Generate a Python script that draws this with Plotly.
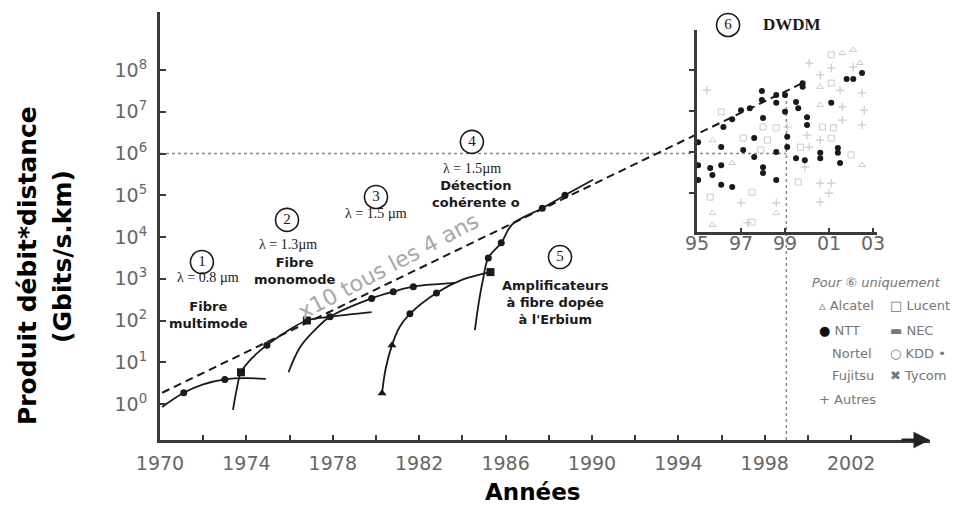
import plotly.graph_objects as go

# ---------------- data (years, log10 of bit-rate*distance) ----------------
gen1_year = [1970.1, 1971.1, 1972.0, 1973.0, 1974.0, 1974.9]
gen1_exp = [-0.07, 0.27, 0.47, 0.59, 0.62, 0.60]
gen2_year = [1973.38, 1973.55, 1973.75, 1974.3, 1974.95, 1975.9, 1976.8, 1977.87, 1979.8]
gen2_exp = [-0.14, 0.35, 0.76, 1.12, 1.41, 1.75, 2.0, 2.09, 2.2]
gen3_year = [1975.95, 1976.5, 1977.3, 1977.87, 1979.8, 1980.8, 1981.73, 1983.66]
gen3_exp = [0.76, 1.37, 1.84, 2.09, 2.53, 2.69, 2.81, 2.9]
gen4_year = [1980.28, 1980.45, 1980.74, 1981.1, 1981.57, 1982.8, 1984.0, 1985.3]
gen4_exp = [0.26, 0.85, 1.41, 1.85, 2.16, 2.66, 2.98, 3.16]
gen5_year = [1984.58, 1984.75, 1984.95, 1985.2, 1985.8, 1986.3, 1987.7, 1988.75, 1990.05]
gen5_exp = [1.77, 2.4, 2.97, 3.5, 3.86, 4.3, 4.69, 5.0, 5.37]

trend_year = [1970.1, 1999.8]
trend_exp = [0.27, 7.7]

dot_year = [1971.1, 1973.0, 1974.95, 1977.87, 1979.8, 1980.8, 1981.73, 1981.57, 1982.8, 1985.2, 1985.8, 1987.7, 1988.75]
dot_exp = [0.27, 0.59, 1.41, 2.09, 2.53, 2.69, 2.81, 2.16, 2.66, 3.5, 3.86, 4.69, 5.0]
square_year = [1973.75, 1976.8, 1985.3]
square_exp = [0.76, 2.0, 3.16]
tri_year = [1980.28, 1980.74]
tri_exp = [0.26, 1.41]

ref_level_exp = 6
ref_year = 1999

# inset (DWDM) records
ntt_year = [1995.05, 1995.05, 1995.05, 1995.6, 1995.7, 1996.1, 1996.1, 1996.1, 1996.2, 1996.6,
            1996.6, 1997.0, 1997.1, 1997.4, 1997.6, 1997.6, 1997.95, 1997.95, 1998.0, 1998.0,
            1998.0, 1998.6, 1998.6, 1998.6, 1998.6, 1999.0, 1999.0, 1999.1, 1999.1, 1999.5,
            1999.5, 1999.8, 1999.8, 1999.6, 2000.0, 2000.0, 1999.9, 2000.6, 2000.6, 2001.1,
            2001.4, 2001.4, 2001.5, 2001.8, 2002.1, 2002.5]
ntt_exp = [6.24, 5.68, 5.32, 5.61, 5.44, 6.12, 5.68, 5.2, 6.61, 6.8,
           5.15, 7.02, 6.05, 7.07, 6.34, 5.88, 7.49, 7.27, 6.83, 5.63,
           5.49, 7.39, 7.2, 6.0, 5.32, 7.39, 6.98, 6.37, 6.12, 7.22,
           5.85, 7.68, 7.59, 7.07, 6.85, 6.66, 5.8, 5.98, 5.85, 7.2,
           6.1, 5.98, 5.73, 7.78, 7.78, 7.93]
oth_tri_year = [1995.7, 1995.7, 1995.7, 1996.6, 1998.6, 2001.6, 2002.4, 2000.6, 2000.6, 2002.5, 2002.1]
oth_tri_exp = [6.29, 4.51, 4.22, 5.73, 4.51, 8.41, 8.17, 7.59, 7.15, 5.68, 8.49]
oth_sq_year = [1995.6, 1996.1, 1997.1, 1997.5, 1997.5, 1997.9, 1998.0, 1998.6, 2001.1, 2001.1,
               2000.7, 2001.1, 1999.7, 2002.0, 1999.6, 2001.2, 1998.2]
oth_sq_exp = [4.9, 6.98, 6.34, 5.02, 4.29, 6.05, 6.61, 6.59, 8.37, 7.68,
              6.61, 6.34, 6.12, 5.93, 5.27, 6.59, 6.29]
oth_plus_year = [1995.45, 1997.0, 1998.6, 2000.1, 2000.6, 2001.5, 2002.5, 2001.6, 2000.6, 2000.6,
                 2001.1, 2001.0, 2000.6, 1999.1, 2000.0, 1999.9, 2002.1, 2001.1, 2002.6, 2001.6,
                 2002.5, 2000.1, 1997.3]
oth_plus_exp = [7.51, 4.76, 4.76, 8.17, 7.88, 7.51, 7.44, 7.1, 6.29, 5.24,
                5.24, 5.0, 4.78, 6.61, 6.41, 5.63, 8.07, 8.05, 7.02, 6.78,
                6.66, 6.12, 4.27]

year_ticks = list(range(1970, 2003, 2))
year_labels = [str(y) if (y - 1970) % 4 == 0 else "" for y in year_ticks]
exp_ticks = list(range(0, 9))
exp_labels = ["10<sup>%d</sup>" % k for k in exp_ticks]
inset_ticks = [1995, 1997, 1999, 2001, 2003]
inset_labels = ["95", "97", "99", "01", "03"]

circle_year = [1971.94, 1975.88, 1980.0, 1984.44, 1988.52, 1996.3]
circle_exp = [3.40, 4.41, 4.96, 6.28, 3.52, 9.08]
circle_text = ["1", "2", "3", "4", "5", "6"]


def v(exps):
    return [10 ** e for e in exps]


INK = "#1a1a1a"
AX = "#3a3a3a"
GRAY = "#666666"
LIGHT = "#cccccc"

fig = go.Figure()

# reference dotted lines
fig.add_trace(go.Scatter(x=[1970, ref_year], y=v([ref_level_exp, ref_level_exp]), mode="lines",
                         line=dict(color="#888", width=1.5, dash="dot"), hoverinfo="skip"))
fig.add_trace(go.Scatter(x=[ref_year, ref_year], y=v([-0.86, 7.5]), mode="lines",
                         line=dict(color="#888", width=1.5, dash="dot"), hoverinfo="skip"))

# trend line
fig.add_trace(go.Scatter(x=trend_year, y=v(trend_exp), mode="lines",
                         line=dict(color=INK, width=2, dash="8px,5px")))

for xs, es in [(gen1_year, gen1_exp), (gen2_year, gen2_exp), (gen3_year, gen3_exp),
               (gen4_year, gen4_exp), (gen5_year, gen5_exp)]:
    fig.add_trace(go.Scatter(x=xs, y=v(es), mode="lines", line=dict(color=INK, width=1.8, shape="spline")))

fig.add_trace(go.Scatter(x=dot_year, y=v(dot_exp), mode="markers",
                         marker=dict(symbol="circle", size=7, color=INK)))
fig.add_trace(go.Scatter(x=square_year, y=v(square_exp), mode="markers",
                         marker=dict(symbol="square", size=8, color=INK)))
fig.add_trace(go.Scatter(x=tri_year, y=v(tri_exp), mode="markers",
                         marker=dict(symbol="triangle-up", size=8, color=INK)))

# circled numbers
fig.add_trace(go.Scatter(x=circle_year, y=v(circle_exp), mode="markers+text", text=circle_text,
                         textposition="middle center",
                         textfont=dict(family="Liberation Serif", size=15, color=INK),
                         marker=dict(symbol="circle-open", size=23, color=INK, line=dict(width=1.6, color=INK))))

# inset scatter
fig.add_trace(go.Scatter(x=oth_tri_year, y=v(oth_tri_exp), xaxis="x2", yaxis="y2", mode="markers",
                         marker=dict(symbol="triangle-up-open", size=6, color=LIGHT, line=dict(width=1))))
fig.add_trace(go.Scatter(x=oth_sq_year, y=v(oth_sq_exp), xaxis="x2", yaxis="y2", mode="markers",
                         marker=dict(symbol="square-open", size=6, color=LIGHT, line=dict(width=1))))
fig.add_trace(go.Scatter(x=oth_plus_year, y=v(oth_plus_exp), xaxis="x2", yaxis="y2", mode="markers",
                         marker=dict(symbol="cross-thin-open", size=6, color=LIGHT, line=dict(width=1.2, color=LIGHT))))
fig.add_trace(go.Scatter(x=ntt_year, y=v(ntt_exp), xaxis="x2", yaxis="y2", mode="markers",
                         marker=dict(symbol="circle", size=6, color=INK)))

tickfont = dict(family="DejaVu Sans", size=19, color=GRAY)

fig.update_layout(
    width=966, height=505,
    margin=dict(l=160, r=36, t=12, b=65),
    paper_bgcolor="white", plot_bgcolor="rgba(0,0,0,0)",
    showlegend=False,
    xaxis=dict(range=[1970, 2005.65], showline=True, linewidth=3, linecolor=AX, ticks="inside",
               ticklen=5, tickwidth=2, tickcolor=AX, tickvals=year_ticks, ticktext=year_labels,
               showgrid=False, zeroline=False, tickfont=tickfont, ticklabelstandoff=4),
    yaxis=dict(type="log", range=[-0.862, 9.39], showline=True, linewidth=3, linecolor=AX,
               ticks="inside", ticklen=6, tickwidth=2, tickcolor=AX,
               tickvals=[10 ** k for k in exp_ticks], ticktext=exp_labels,
               showgrid=False, zeroline=False, tickfont=tickfont, ticklabelstandoff=6),
    xaxis2=dict(domain=[0.6974, 0.9312], anchor="y2", range=[1995, 2003.18], showline=True,
                linewidth=3, linecolor=AX, ticks="inside", ticklen=4, tickwidth=2, tickcolor=AX,
                tickvals=inset_ticks, ticktext=inset_labels, showgrid=False, zeroline=False,
                tickfont=tickfont, ticklabelstandoff=-8),
    yaxis2=dict(domain=[0.486, 0.958], anchor="x2", type="log", range=[4.05, 8.976], showline=True,
                linewidth=3, linecolor=AX, ticks="outside", ticklen=5, tickwidth=2, tickcolor=AX,
                tickvals=[1e5, 1e6, 1e7, 1e8], showticklabels=False, showgrid=False, zeroline=False),
)

ann = []
# axis arrow
ann.append(dict(x=1.0, y=0, xref="paper", yref="paper", text="", showarrow=True, ax=-30, ay=0,
                arrowhead=2, arrowsize=1.1, arrowwidth=3, arrowcolor="#222"))
# axis titles
titlef = dict(family="DejaVu Sans", size=25, weight="bold", color="black")
ann.append(dict(x=-0.1727, y=0.4065, xref="paper", yref="paper", text="Produit débit*distance",
                textangle=-90, showarrow=False, xanchor="center", yanchor="middle", font=titlef))
ann.append(dict(x=-0.126, y=0.43, xref="paper", yref="paper", text="(Gbits/s.km)",
                textangle=-90, showarrow=False, xanchor="center", yanchor="middle", font=titlef))
ann.append(dict(x=0.4844, y=-0.121, xref="paper", yref="paper", text="Années",
                showarrow=False, xanchor="center", yanchor="middle",
                font=dict(family="DejaVu Sans", size=23, weight="bold", color="black")))

serif = dict(family="Liberation Serif", size=14, color=INK)
boldf = dict(family="DejaVu Sans", size=13, weight="bold", color=INK)
labels = [
    (1972.22, 3.02, "λ = 0.8 µm", serif),
    (1972.25, 2.14, "Fibre<br>multimode", boldf),
    (1975.93, 3.81, "λ = 1.3µm", serif),
    (1976.25, 3.19, "Fibre<br>monomode", boldf),
    (1980.0, 4.57, "λ = 1.5 µm", serif),
    (1984.44, 5.65, "λ = 1.5µm", serif),
    (1984.62, 5.03, "Détection<br>cohérente o", boldf),
    (1988.3, 2.44, "Amplificateurs<br>à fibre dopée<br>à l'Erbium", boldf),
]
for x, y, t, f in labels:
    ann.append(dict(x=x, y=y, xref="x", yref="y", text=t, showarrow=False,
                    xanchor="center", yanchor="middle", font=f))
ann.append(dict(x=1999.26, y=9.08, xref="x", yref="y", text="DWDM", showarrow=False,
                xanchor="center", yanchor="middle",
                font=dict(family="Liberation Serif", size=17, weight="bold", color=INK)))
ann.append(dict(x=1980.55, y=3.3, xref="x", yref="y", text="x10 tous les 4 ans", showarrow=False,
                xanchor="center", yanchor="middle",
                textangle=-28, font=dict(family="DejaVu Sans", size=22, color="#a8a8a8")))

# legend of inset
legf = dict(family="DejaVu Sans", size=13, color="#777")
ann.append(dict(x=0.844, y=0.367, xref="paper", yref="paper", xanchor="left", yanchor="middle",
                text="<i>Pour ⑥ uniquement</i>", showarrow=False, font=legf))
leg_items = [
    (0.853, 0.315, "▵ Alcatel"), (0.945, 0.315, "□ Lucent"),
    (0.853, 0.257, "<span style='color:#111'>●</span> NTT"), (0.945, 0.257, "▬ NEC"),
    (0.870, 0.203, "Nortel"), (0.945, 0.203, "○ KDD •"),
    (0.870, 0.150, "Fujitsu"), (0.945, 0.150, "✖ Tycom"),
    (0.853, 0.0935, "+ Autres"),
]
for x, y, t in leg_items:
    ann.append(dict(x=x, y=y, xref="paper", yref="paper", xanchor="left", yanchor="middle", text=t,
                    showarrow=False, font=legf))

fig.update_layout(annotations=ann)
fig.write_html("out.html")
